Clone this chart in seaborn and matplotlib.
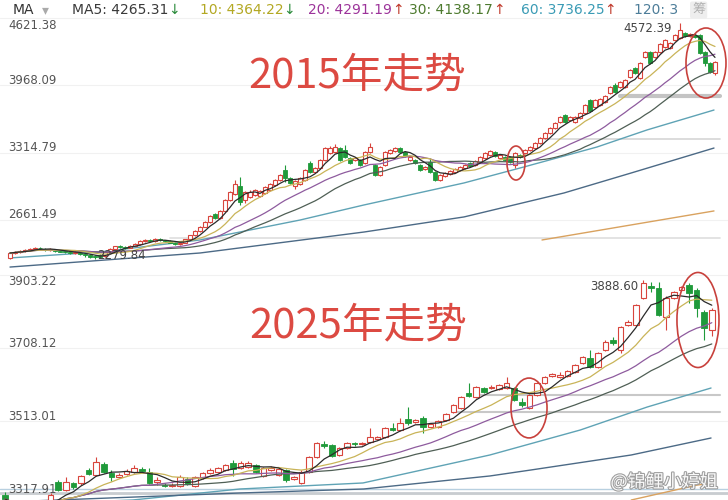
import numpy as np
import pandas as pd
import matplotlib
matplotlib.use("Agg")
import matplotlib.pyplot as plt
import seaborn as sns
from matplotlib.patches import Ellipse
from matplotlib import patheffects as pe
from matplotlib.transforms import offset_copy, blended_transform_factory

# ---------------- 2015 panel (daily candles) ----------------
open_2015 = [2294, 2342, 2352, 2361, 2371, 2381, 2390, 2381, 2371, 2371,
             2361, 2361, 2352, 2342, 2342, 2332, 2323, 2313, 2327, 2313,
             2352, 2381, 2410, 2400, 2390, 2410, 2429, 2458, 2468, 2458,
             2477, 2468, 2458, 2439, 2429, 2439, 2477, 2516, 2555, 2594,
             2642, 2720, 2681, 2749, 2855, 2913, 2991, 2855, 2884, 2903,
             2894, 2923, 2952, 3000, 3049, 3145, 3068, 2991, 3010, 3049,
             3213, 3126, 3165, 3242, 3310, 3320, 3358, 3339, 3262, 3242,
             3242, 3213, 3320, 3194, 3097, 3194, 3310, 3329, 3358, 3320,
             3242, 3242, 3194, 3155, 3223, 3126, 3049, 3087, 3107, 3126,
             3145, 3165, 3213, 3194, 3223, 3262, 3291, 3320, 3262, 3271,
             3271, 3194, 3291, 3310, 3339, 3358, 3407, 3455, 3504, 3552,
             3610, 3678, 3629, 3610, 3649, 3697, 3823, 3755, 3775, 3804,
             3891, 3968, 3949, 3949, 4046, 4133, 4036, 4239, 4288, 4239,
             4288, 4336, 4326, 4404, 4423, 4472, 4443, 4452, 4452, 4288,
             4181, 4084]
close_2015 = [2342, 2352, 2361, 2371, 2381, 2390, 2386, 2371, 2376, 2361,
              2356, 2352, 2342, 2352, 2332, 2318, 2308, 2303, 2303, 2352,
              2381, 2410, 2400, 2390, 2410, 2429, 2458, 2468, 2458, 2477,
              2468, 2458, 2439, 2429, 2439, 2477, 2516, 2555, 2594, 2642,
              2700, 2681, 2749, 2855, 2933, 3010, 2836, 2933, 2933, 2952,
              2942, 2981, 3010, 3049, 3097, 3068, 3020, 3039, 3068, 3145,
              3126, 3165, 3242, 3358, 3358, 3368, 3242, 3271, 3213, 3262,
              3194, 3320, 3368, 3097, 3175, 3320, 3339, 3358, 3320, 3281,
              3271, 3213, 3145, 3175, 3126, 3049, 3097, 3116, 3136, 3155,
              3175, 3194, 3184, 3233, 3271, 3310, 3329, 3281, 3291, 3242,
              3223, 3310, 3271, 3339, 3368, 3407, 3455, 3504, 3552, 3600,
              3658, 3610, 3658, 3658, 3697, 3775, 3717, 3823, 3833, 3862,
              3949, 3900, 3997, 4017, 4113, 4084, 4181, 4288, 4181, 4288,
              4365, 4404, 4375, 4452, 4501, 4443, 4462, 4433, 4278, 4181,
              4094, 4191]
high_2015 = [2352, 2362, 2371, 2381, 2390, 2400, 2400, 2390, 2386, 2376,
             2366, 2366, 2361, 2361, 2347, 2342, 2332, 2318, 2337, 2356,
             2386, 2414, 2419, 2410, 2419, 2434, 2468, 2477, 2477, 2487,
             2487, 2472, 2463, 2448, 2443, 2482, 2521, 2560, 2599, 2652,
             2710, 2729, 2758, 2865, 2942, 3049, 3078, 2942, 2947, 2962,
             2952, 2991, 3020, 3058, 3107, 3194, 3078, 3049, 3078, 3155,
             3233, 3175, 3252, 3368, 3378, 3397, 3368, 3387, 3271, 3271,
             3252, 3329, 3407, 3204, 3184, 3329, 3349, 3368, 3368, 3329,
             3281, 3252, 3204, 3184, 3262, 3136, 3107, 3126, 3145, 3165,
             3184, 3204, 3223, 3242, 3281, 3320, 3339, 3329, 3300, 3281,
             3281, 3320, 3300, 3349, 3378, 3416, 3465, 3513, 3562, 3610,
             3668, 3688, 3668, 3668, 3707, 3784, 3833, 3833, 3842, 3871,
             3958, 3988, 4007, 4026, 4123, 4142, 4191, 4297, 4297, 4297,
             4375, 4413, 4384, 4462, 4572.39, 4481, 4472, 4462, 4462, 4297,
             4191, 4201]
low_2015 = [2284, 2333, 2342, 2352, 2361, 2371, 2376, 2361, 2366, 2352,
            2347, 2342, 2333, 2333, 2323, 2308, 2298, 2279.84, 2290, 2303,
            2347, 2376, 2390, 2381, 2386, 2405, 2424, 2453, 2448, 2453,
            2458, 2448, 2434, 2419, 2419, 2434, 2468, 2511, 2550, 2589,
            2637, 2671, 2671, 2739, 2845, 2903, 2807, 2826, 2874, 2894,
            2884, 2913, 2942, 2991, 3039, 3029, 3010, 2962, 3000, 3039,
            3116, 3116, 3155, 3233, 3300, 3310, 3233, 3262, 3204, 3233,
            3184, 3204, 3310, 3087, 3087, 3184, 3300, 3320, 3310, 3271,
            3233, 3204, 3136, 3145, 3116, 3039, 3039, 3078, 3097, 3116,
            3136, 3155, 3175, 3184, 3213, 3252, 3281, 3271, 3252, 3233,
            3213, 3165, 3262, 3300, 3329, 3349, 3397, 3445, 3494, 3542,
            3600, 3600, 3620, 3600, 3639, 3688, 3707, 3746, 3765, 3794,
            3881, 3891, 3939, 3939, 4036, 4075, 4026, 4230, 4171, 4230,
            4278, 4326, 4317, 4394, 4413, 4433, 4433, 4423, 4268, 4152,
            4084, 4065]
# long moving averages (candle index, value)
ma60_2015_idx = [0, 18, 38, 58, 70.8, 90.8, 102.8, 117.4, 127.4, 140.8]
ma60_2015_val = [2294, 2352, 2468, 2661, 2807, 3020, 3175, 3368, 3533, 3726]
ma120_2015_idx = [0, 38, 70.8, 90.8, 110.8, 124.2, 140.8]
ma120_2015_val = [2206, 2342, 2545, 2691, 2923, 3116, 3358]
ma250_2015_idx = [106.4, 140.8]
ma250_2015_val = [2468, 2749]
ticks_2015 = [4621.38, 3968.09, 3314.79, 2661.49]

# ---------------- 2025 panel ----------------
open_2025 = [3315.3, 3296.6, 3288.6, 3293.9, 3285.9, 3291.3, 3296.6, 3350.0, 3328.6, 3347.4,
             3347.4, 3382.1, 3368.7, 3398.1, 3374.1, 3363.4, 3371.4, 3376.8, 3384.8, 3376.8,
             3350.0, 3342.0, 3339.4, 3339.4, 3358.1, 3339.4, 3360.8, 3374.1, 3376.8, 3382.1,
             3400.8, 3387.4, 3390.1, 3395.5, 3366.1, 3382.1, 3368.7, 3382.1, 3358.1, 3347.4,
             3376.8, 3416.8, 3451.6, 3448.9, 3422.2, 3440.9, 3454.2, 3451.6, 3456.9, 3464.9,
             3470.3, 3494.3, 3489.0, 3518.4, 3510.4, 3521.0, 3497.0, 3497.0, 3515.7, 3537.1,
             3547.8, 3587.9, 3577.2, 3601.2, 3601.2, 3598.6, 3601.2, 3601.2, 3563.8, 3547.8,
             3582.5, 3614.6, 3633.3, 3630.6, 3633.3, 3644.0, 3668.0, 3681.4, 3657.3, 3702.8,
             3729.5, 3702.8, 3769.6, 3769.6, 3841.8, 3873.8, 3868.5, 3791.0, 3841.8, 3863.2,
             3876.5, 3863.2, 3804.3, 3756.2]
close_2025 = [3304.6, 3288.6, 3293.9, 3285.9, 3291.3, 3288.6, 3315.3, 3328.6, 3350.0, 3336.7,
              3366.1, 3371.4, 3403.5, 3376.8, 3363.4, 3368.7, 3379.4, 3387.4, 3379.4, 3347.4,
              3355.4, 3339.4, 3342.0, 3363.4, 3344.7, 3363.4, 3374.1, 3382.1, 3387.4, 3395.5,
              3384.8, 3400.8, 3400.8, 3376.8, 3387.4, 3387.4, 3384.8, 3355.4, 3363.4, 3376.8,
              3416.8, 3454.2, 3446.2, 3419.5, 3440.9, 3454.2, 3451.6, 3454.2, 3470.3, 3470.3,
              3494.3, 3489.0, 3507.7, 3507.7, 3515.7, 3497.0, 3505.0, 3513.0, 3531.7, 3555.7,
              3577.2, 3579.9, 3603.9, 3590.5, 3603.9, 3609.3, 3614.6, 3569.2, 3555.7, 3582.5,
              3614.6, 3630.6, 3638.6, 3636.0, 3646.7, 3662.7, 3684.0, 3657.3, 3694.8, 3724.2,
              3721.5, 3764.3, 3777.6, 3823.1, 3881.8, 3868.5, 3796.3, 3841.8, 3857.8, 3871.2,
              3855.1, 3815.0, 3761.6, 3809.7]
high_2025 = [3323.3, 3301.9, 3299.2, 3299.2, 3296.6, 3296.6, 3320.6, 3355.4, 3363.4, 3350.0,
             3368.7, 3387.4, 3416.8, 3403.5, 3382.1, 3374.1, 3384.8, 3395.5, 3390.1, 3387.4,
             3363.4, 3347.4, 3347.4, 3368.7, 3363.4, 3366.1, 3376.8, 3387.4, 3390.1, 3398.1,
             3408.8, 3406.1, 3406.1, 3398.1, 3390.1, 3392.8, 3390.1, 3384.8, 3366.1, 3382.1,
             3419.5, 3456.9, 3459.6, 3451.6, 3443.5, 3456.9, 3456.9, 3456.9, 3494.3, 3472.9,
             3497.0, 3507.7, 3521.0, 3550.4, 3518.4, 3526.4, 3507.7, 3515.7, 3534.4, 3558.4,
             3579.9, 3614.6, 3606.6, 3603.9, 3609.3, 3611.9, 3630.6, 3603.9, 3574.5, 3585.2,
             3617.3, 3633.3, 3641.3, 3644.0, 3649.3, 3665.4, 3686.7, 3702.8, 3697.4, 3729.5,
             3737.5, 3766.9, 3783.0, 3825.7, 3888.60, 3884.5, 3884.5, 3847.1, 3860.5, 3873.8,
             3881.8, 3868.5, 3809.7, 3815.0]
low_2025 = [3293.9, 3283.2, 3283.2, 3280.6, 3280.6, 3283.2, 3291.3, 3326.0, 3326.0, 3331.3,
            3342.0, 3368.7, 3366.1, 3374.1, 3352.7, 3360.8, 3368.7, 3374.1, 3376.8, 3344.7,
            3342.0, 3336.7, 3336.7, 3336.7, 3342.0, 3336.7, 3358.1, 3371.4, 3374.1, 3379.4,
            3366.1, 3384.8, 3387.4, 3374.1, 3363.4, 3379.4, 3366.1, 3350.0, 3355.4, 3344.7,
            3374.1, 3414.2, 3440.9, 3416.8, 3419.5, 3438.2, 3446.2, 3448.9, 3454.2, 3462.3,
            3467.6, 3486.3, 3486.3, 3502.4, 3507.7, 3481.0, 3494.3, 3494.3, 3513.0, 3534.4,
            3545.1, 3577.2, 3574.5, 3587.9, 3598.6, 3595.9, 3598.6, 3566.5, 3550.4, 3545.1,
            3579.9, 3611.9, 3630.6, 3627.9, 3630.6, 3641.3, 3665.4, 3654.7, 3654.7, 3700.1,
            3716.1, 3694.8, 3766.9, 3766.9, 3839.1, 3857.8, 3793.7, 3756.2, 3839.1, 3860.5,
            3828.4, 3791.0, 3729.5, 3740.2]
ma60_2025_idx = [0, 16.8, 30.9, 47.1, 63.8, 75.7, 84.5, 92.9]
ma60_2025_val = [3288.6, 3301.9, 3331.3, 3347.4, 3422.2, 3489.0, 3550.4, 3601.2]
ma120_2025_idx = [0, 30.9, 47.2, 63.8, 69.2, 82.4, 92.9]
ma120_2025_val = [3296.6, 3320.6, 3331.3, 3366.1, 3382.1, 3422.2, 3467.6]
ma250_2025_idx = [82.4, 91.1, 92.9]
ma250_2025_val = [3301.9, 3342.0, 3346.0]
ticks_2025 = [3903.22, 3708.12, 3513.01, 3317.91]

# header
header_items = [("MA5: 4265.31", "↓"), ("10: 4364.22", "↓"), ("20: 4291.19", "↑"),
                ("30: 4138.17", "↑"), ("60: 3736.25", "↑"), ("120: 3", "")]

# ---------------- style ----------------
sns.set_theme(style="white")
plt.rcParams["font.family"] = ["DejaVu Sans", "Noto Sans CJK SC"]
CJK = ["Noto Sans CJK SC", "DejaVu Sans"]

RED = "#d8453d"
GREEN = "#1f9a3a"
MA_COLORS = {"MA5": "#2b2b2b", "MA10": "#c9b458", "MA20": "#8e5b9e",
             "MA30": "#4f5f55", "MA60": "#5fa3b5", "MA120": "#4c6a86", "MA250": "#d9a25f"}
LABEL_COL = "#555555"
ANNO_RED = "#dc4a42"

W, H = 728, 500
fig = plt.figure(figsize=(W / 100, H / 100), dpi=100)
fig.patch.set_facecolor("white")

ax1 = fig.add_axes([0, 230 / 500, 1, 270 / 500])
ax2 = fig.add_axes([0, 0, 1, 230 / 500])
for ax in (ax1, ax2):
    ax.axis("off")

ax1.set_xlim(-2, 143.6)
ax1.set_ylim(4791 - 9.68 * 270, 4791)
ax2.set_xlim(-5 / 7.6, 723 / 7.6)
ax2.set_ylim(4638.2 - 2.6726 * 500, 4638.2 - 2.6726 * 270)


def draw_candles(ax, o, c, h, l, width):
    o = np.asarray(o, float); c = np.asarray(c, float)
    h = np.asarray(h, float); l = np.asarray(l, float)
    idx = np.arange(len(o))
    up = c >= o
    ax.vlines(idx[up], l[up], h[up], color=RED, lw=0.8, zorder=3)
    ax.vlines(idx[~up], l[~up], h[~up], color=GREEN, lw=0.8, zorder=3)
    bottom = np.minimum(o, c)
    height = np.abs(c - o)
    ax.bar(idx[up], height[up], bottom=bottom[up], width=width, facecolor="white",
           edgecolor=RED, linewidth=0.8, zorder=4)
    ax.bar(idx[~up], height[~up], bottom=bottom[~up], width=width, facecolor=GREEN,
           edgecolor=GREEN, linewidth=0.6, zorder=4)


def draw_mas(ax, close, long_lines):
    s = pd.Series(close, dtype=float)
    idx = np.arange(len(s))
    for n, key in [(30, "MA30"), (20, "MA20"), (10, "MA10"), (5, "MA5")]:
        ma = s.rolling(n, min_periods=1).mean()
        sns.lineplot(x=idx, y=ma.values, ax=ax, color=MA_COLORS[key], lw=0.9,
                     legend=False, zorder=5, estimator=None)
    for key, xs, ys in long_lines:
        sns.lineplot(x=xs, y=ys, ax=ax, color=MA_COLORS[key], lw=1.0,
                     legend=False, zorder=2, estimator=None)


def y_labels(ax, ticks, first_dy):
    tr = blended_transform_factory(ax.transAxes, ax.transData)
    for k, v in enumerate(ticks):
        ax.axhline(v, color="#f1f1f1", lw=0.8, zorder=0)
        dy = first_dy if k == 0 else 5
        t = offset_copy(tr, fig=fig, x=0, y=dy, units="dots")
        ax.text(8 / W, v, f"{v:.2f}", transform=t, ha="left", va="center",
                fontsize=8.5, color=LABEL_COL, zorder=6)


# ---- top panel
y_labels(ax1, ticks_2015, -8)
for lvl, x0, x1, lw, col in [(3862, 620, 720, 3.0, "#c4c4c4"), (3445, 544, 720, 1.2, "#d6d6d6"),
                             (2487, 170, 720, 1.2, "#dedede")]:
    ax1.axhline(lvl, xmin=x0 / W, xmax=x1 / W, color=col, lw=lw, zorder=1)
draw_mas(ax1, close_2015, [("MA60", ma60_2015_idx, ma60_2015_val),
                           ("MA120", ma120_2015_idx, ma120_2015_val),
                           ("MA250", ma250_2015_idx, ma250_2015_val)])
draw_candles(ax1, open_2015, close_2015, high_2015, low_2015, 0.7)
i_hi = int(np.argmax(high_2015)); i_lo = int(np.argmin(low_2015))
ax1.annotate(f"{high_2015[i_hi]:.2f}", xy=(i_hi, high_2015[i_hi]), xytext=(-8, -6),
             textcoords="offset pixels", ha="right", va="center", fontsize=8.5, color="#444444", zorder=7)
ax1.annotate(f"{low_2015[i_lo]:.2f}", xy=(i_lo, low_2015[i_lo]), xytext=(2, 3.5),
             textcoords="offset pixels", ha="left", va="center", fontsize=8.5, color="#444444", zorder=7)
for (cx, cy, w, h) in [(101.2, 3213, 3.6, 329), (139.2, 4181, 8.0, 678)]:
    ax1.add_patch(Ellipse((cx, cy), w, h, fill=False, edgecolor="#c8413c", lw=1.2, zorder=8))

# ---- bottom panel
y_labels(ax2, ticks_2025, -6)
for lvl, x0, x1, lw, col in [(3583, 480, 720, 1.5, "#c8c8c8"), (3537, 453, 720, 1.5, "#c8c8c8"),
                             (3320.6, 0, 728, 2.0, "#c8ccd0"), (3331.3, 0, 728, 1.0, "#b8d0e0")]:
    ax2.axhline(lvl, xmin=x0 / W, xmax=x1 / W, color=col, lw=lw, zorder=1)
draw_mas(ax2, close_2025, [("MA60", ma60_2025_idx, ma60_2025_val),
                           ("MA120", ma120_2025_idx, ma120_2025_val),
                           ("MA250", ma250_2025_idx, ma250_2025_val)])
draw_candles(ax2, open_2025, close_2025, high_2025, low_2025, 0.72)
j_hi = int(np.argmax(high_2025))
ax2.annotate(f"{high_2025[j_hi]:.2f}", xy=(j_hi, high_2025[j_hi]), xytext=(-5, -6),
             textcoords="offset pixels", ha="right", va="center", fontsize=8.5, color="#444444", zorder=7)
for (cx, cy, w, h) in [(68.95, 3547.8, 4.74, 160), (91.18, 3783.0, 5.53, 254)]:
    ax2.add_patch(Ellipse((cx, cy), w, h, fill=False, edgecolor="#c8413c", lw=1.2, zorder=8))

# ---- annotations
fig.text(357 / W, 1 - 76 / H, "2015年走势", fontsize=30, color=ANNO_RED, family=CJK,
         ha="center", va="center", zorder=10)
fig.text(358 / W, 1 - 326 / H, "2025年走势", fontsize=30, color=ANNO_RED, family=CJK,
         ha="center", va="center", zorder=10)
fig.text(664 / W, 1 - 482 / H, "@锦鲤小婷姐", fontsize=13, color="white", family=CJK,
         ha="center", va="center", alpha=0.95,
         path_effects=[pe.withStroke(linewidth=1.6, foreground="#9a9a9a")], zorder=10)

# ---- header
fig.canvas.draw()
renderer = fig.canvas.get_renderer()
HDR_Y = 1 - 10 / H
HFS = 10
fig.text(13 / W, HDR_Y, "MA", fontsize=HFS, color="#333333", ha="left", va="center")
fig.text(42 / W, HDR_Y, "▾", fontsize=HFS, color="#aaaaaa", ha="left", va="center")
hdr_cols = ["#3a3a3a", "#b3a823", "#9c339a", "#4d7a2e", "#3a9bb5", "#4d7d99"]
hdr_x = [72, 200, 308, 409, 521, 634]
for (txt, arrow), col, x0 in zip(header_items, hdr_cols, hdr_x):
    t = fig.text(x0 / W, HDR_Y, txt, fontsize=HFS, color=col, ha="left", va="center")
    bb = t.get_window_extent(renderer)
    if arrow:
        acol = "#2a8a3a" if arrow == "↓" else "#c0392b"
        fig.text(bb.x1 / W, HDR_Y, arrow, fontsize=HFS, color=acol, ha="left", va="center")
fig.text(692 / W, HDR_Y, "筹", fontsize=9.5, color="#b0b0b0", family=CJK, ha="left", va="center",
         bbox=dict(boxstyle="round,pad=0.15", facecolor="#eeeeee", edgecolor="none"))

fig.savefig("out.png", dpi=100, facecolor="white")
